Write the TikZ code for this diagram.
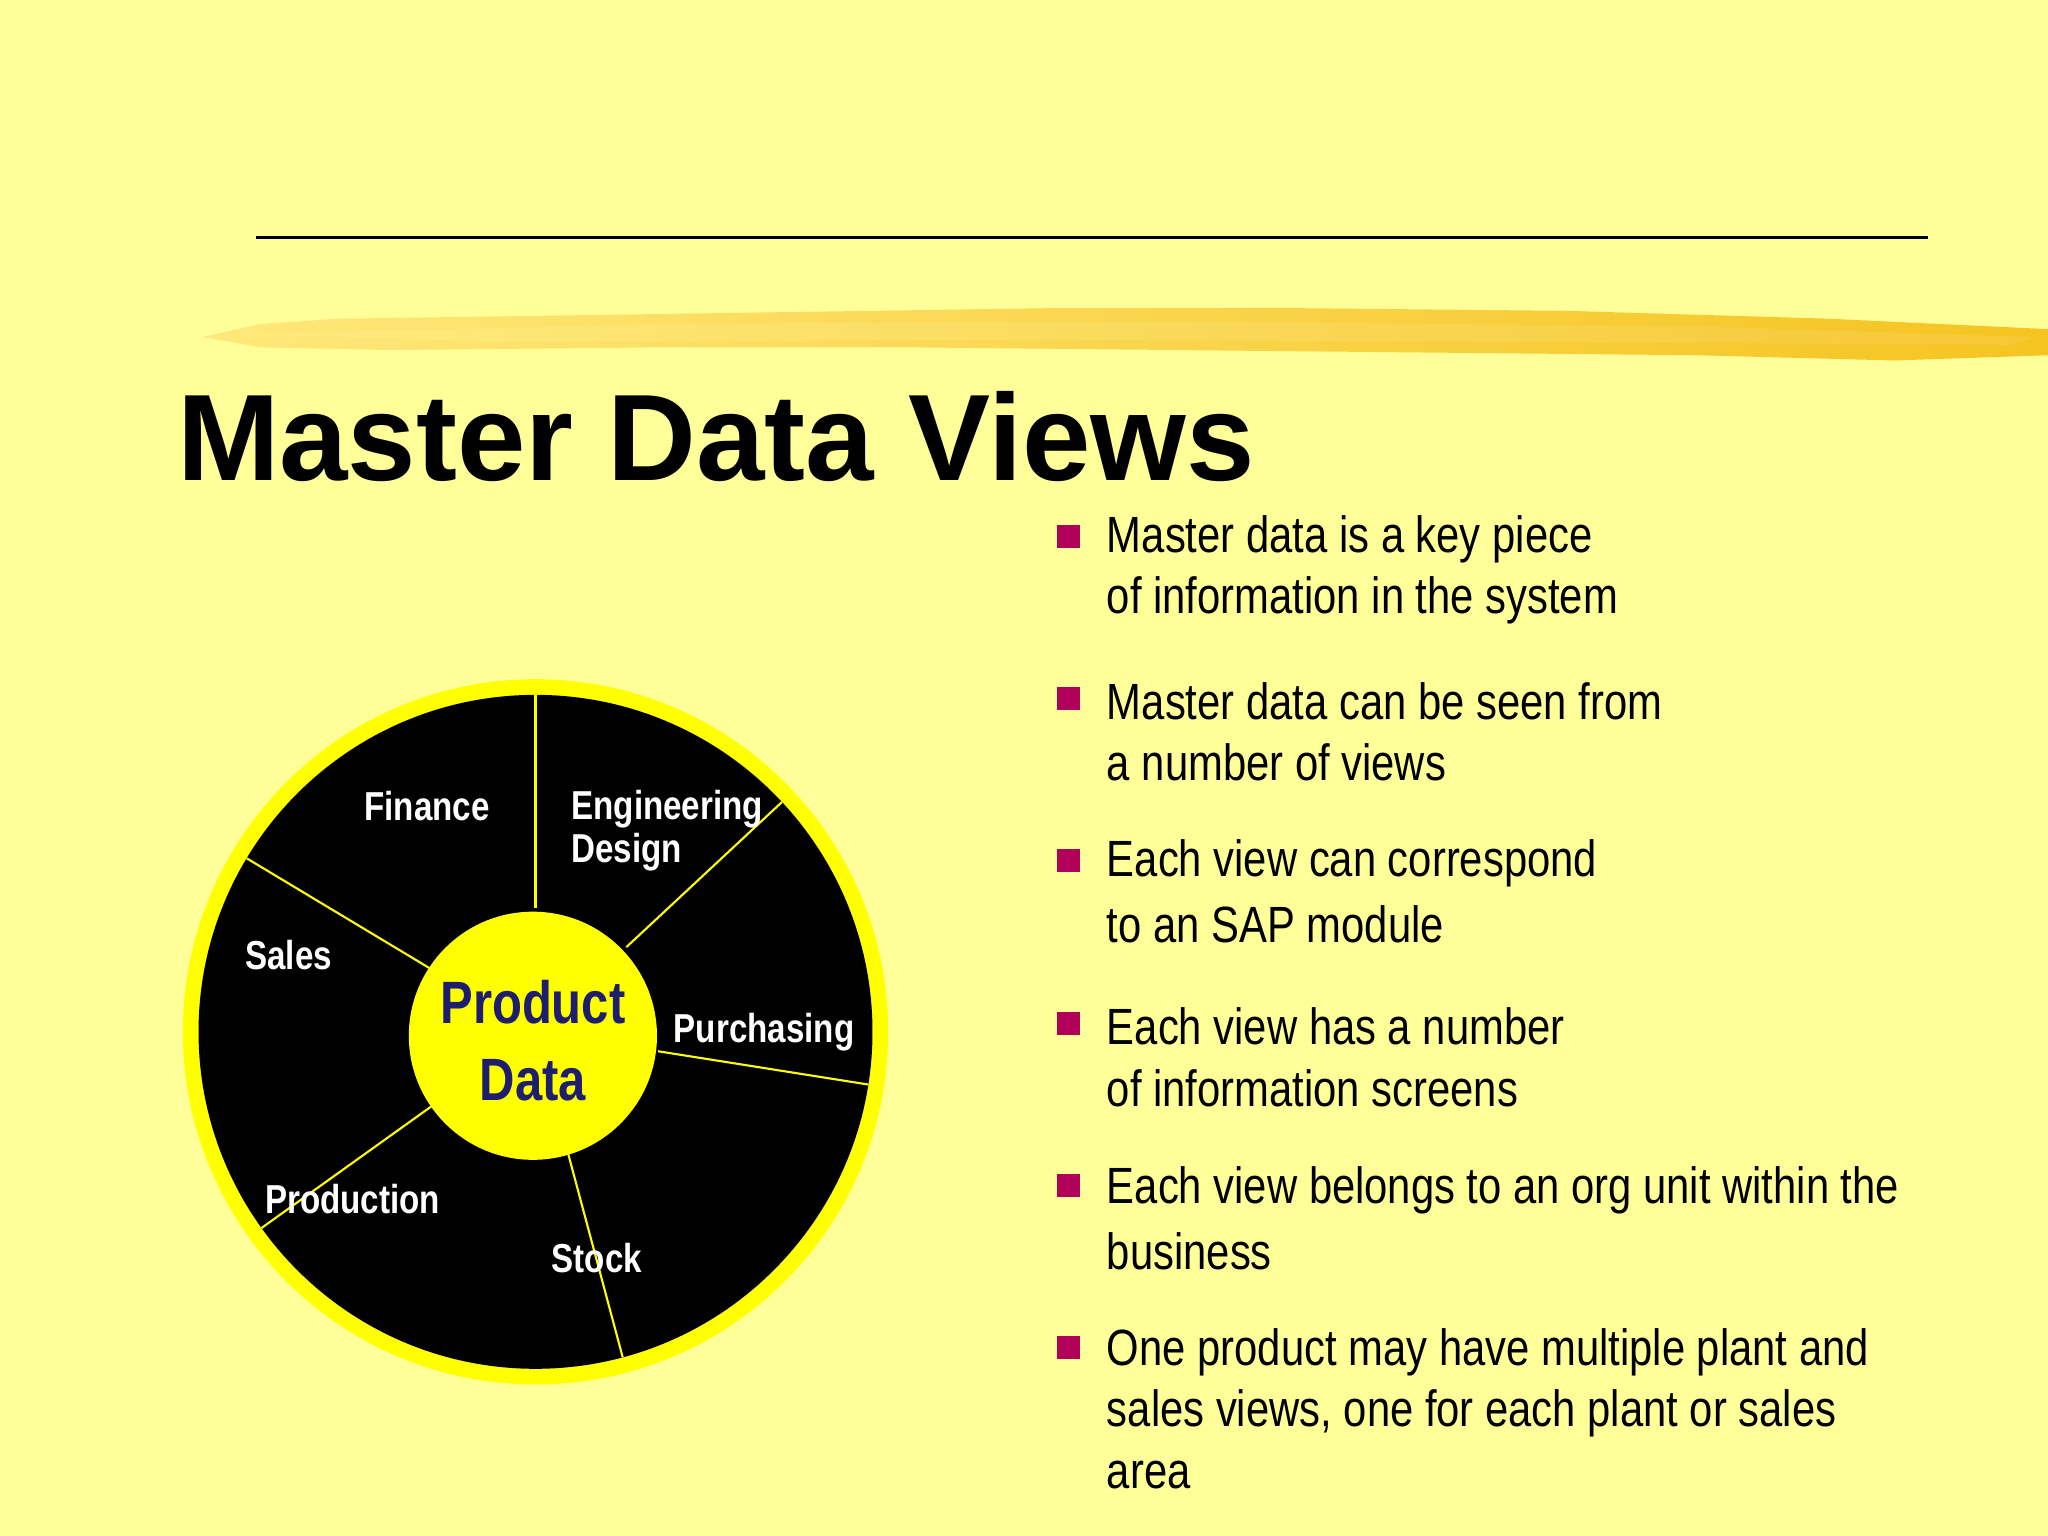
\documentclass[tikz,border=0pt]{standalone}
\usepackage{fontspec}
\setmainfont{Liberation Sans}
\newfontfamily\narrow[FakeStretch=0.82]{Liberation Sans}
\usetikzlibrary{shadings}
\definecolor{bg}{RGB}{255,255,153}
\definecolor{ringy}{RGB}{255,255,0}
\definecolor{navy}{RGB}{30,30,110}
\definecolor{bul}{RGB}{176,0,90}
\definecolor{brushA}{RGB}{255,230,120}
\definecolor{brushB}{RGB}{245,190,20}
\tikzset{
  seg/.style={text=white,font=\narrow\bfseries\fontsize{11.5}{13}\selectfont},
  spoke/.style={draw=ringy,line width=0.6pt},
  btxt/.style={anchor=west,inner sep=0,font=\narrow\fontsize{14.5}{16}\selectfont},
  bsq/.style={fill=bul,minimum size=0.23cm,inner sep=0}
}
\begin{document}
\begin{tikzpicture}[x=0.013061cm,y=-0.013061cm]
\fill[bg] (0,0) rectangle (1568,1176);
\useasboundingbox (0,0) rectangle (1568,1176);
% rule
\draw[line width=0.8pt] (196,182) coordinate (l1) -- (1476,182) coordinate (l2);
% brush stroke
\shade[left color=brushA,right color=brushB,opacity=0.9]
  (155,258) -- (200,248) -- (260,244) -- (400,242) -- (600,239) -- (800,236) -- (1000,236) -- (1200,238) -- (1400,244) -- (1568,252)
  -- (1568,272) -- (1450,276) -- (1300,272) -- (1100,270) -- (900,268) -- (700,266) -- (500,266) -- (300,268) -- (200,266) -- cycle;
\shade[left color=brushA!60!bg,right color=brushB!80!white,opacity=0.6]
  (180,256) -- (500,248) -- (900,246) -- (1300,250) -- (1560,258) -- (1540,264) -- (1200,262) -- (800,260) -- (400,262) -- cycle;
% title
\node[anchor=base west,inner sep=0,font=\bfseries\fontsize{35}{40}\selectfont] (title) at (135,368) {Master Data Views};
% wheel
\coordinate (c) at (410,790);
\fill[ringy] (c) circle (270);
\fill[black] (c) circle (258);
\foreach \a in {90,31,-35.6,-105,189,137}{
  \draw[spoke] (c) ++(\a:-95) -- ++(\a:-163);
}
\fill[ringy] (408,793) circle (95);
\node[text=navy,align=center,font=\narrow\bfseries\fontsize{17}{22}\selectfont] (pd) at (408,797) {Product\\Data};
\node[seg] (fin) at (327,617) {Finance};
\node[seg,align=left,anchor=west] (eng) at (428,636) {Engineering\\[-1pt]Design};
\node[seg] (sal) at (221,731) {Sales};
\node[seg] (pur) at (585,790) {Purchasing};
\node[seg] (pro) at (270,918) {Production};
\node[seg] (sto) at (457,963) {Stock};
% bullets
\foreach \y/\i in {411/1,535/2,659/3,784/4,908/5,1032/6}{
  \node[bsq] (b\i) at (818,\y) {};
}
\node[btxt] (t1a) at (847,413) {Master data is a key piece};
\node[btxt] (t1b) at (847,460) {of information in the system};
\node[btxt] (t2a) at (847,537) {Master data can be seen from};
\node[btxt] (t2b) at (847,584) {a number of views};
\node[btxt] (t3a) at (847,661) {Each view can correspond};
\node[btxt] (t3b) at (847,708) {to an SAP module};
\node[btxt] (t4a) at (847,786) {Each view has a number};
\node[btxt] (t4b) at (847,833) {of information screens};
\node[btxt] (t5a) at (847,911) {Each view belongs to an org unit within the};
\node[btxt] (t5b) at (847,958) {business};
\node[btxt] (t6a) at (847,1035) {One product may have multiple plant and};
\node[btxt] (t6b) at (847,1082) {sales views, one for each plant or sales};
\node[btxt] (t6c) at (847,1129) {area};
\end{tikzpicture}
\end{document}
